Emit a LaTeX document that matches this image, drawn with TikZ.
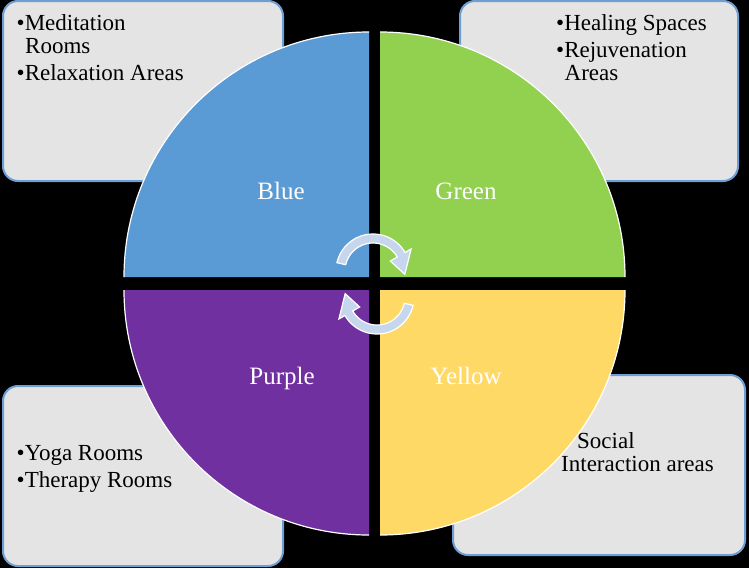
\documentclass[tikz,border=0pt]{standalone}
\usepackage{fontspec}
\setmainfont{Liberation Serif}
\definecolor{boxfill}{HTML}{E4E4E4}
\definecolor{boxborder}{HTML}{6F9ED3}
\definecolor{bluec}{HTML}{5B9BD5}
\definecolor{greenc}{HTML}{92D050}
\definecolor{purplec}{HTML}{7030A0}
\definecolor{yellowc}{HTML}{FFD966}
\definecolor{arrowfill}{HTML}{C6D6EC}
\begin{document}
\begin{tikzpicture}[x=1pt,y=-1pt,
  box/.style={draw=boxborder, line width=2pt, fill=boxfill, rounded corners=15pt},
  arcline/.style={draw=white, line width=1.2pt},
  itemtxt/.style={anchor=base west, inner sep=0pt, font=\fontsize{23}{27}\selectfont, text=black},
  lbl/.style={anchor=base, inner sep=0pt, font=\fontsize{25}{29}\selectfont, text=white},
  cyc/.style={fill=arrowfill, draw=white, line width=1.2pt, line join=miter}]
\fill[black] (0,0) rectangle (749,568);
\useasboundingbox (0,0) rectangle (749,568);
% corner boxes
\draw[box] (3,1) rectangle (283,181);
\draw[box] (460,1) rectangle (738,181);
\draw[box] (3,386) rectangle (283,566);
\draw[box] (453,375) rectangle (745,555);
% box texts
\node[itemtxt] (m1) at (16.5,30.5) {\textbullet Meditation};
\node[itemtxt] (m2) at (25,53) {Rooms};
\node[itemtxt] (m3) at (16.5,80) {\textbullet Relaxation Areas};
\node[itemtxt] (h1) at (556,30) {\textbullet Healing Spaces};
\node[itemtxt] (h2) at (556,57) {\textbullet Rejuvenation};
\node[itemtxt] (h3) at (564.5,80) {Areas};
\node[itemtxt] (y1) at (16.5,460) {\textbullet Yoga Rooms};
\node[itemtxt] (y2) at (16.5,487) {\textbullet Therapy Rooms};
\node[itemtxt] (s1) at (577,448) {Social};
\node[itemtxt] (s2) at (561,471) {Interaction areas};
% quarters
\fill[bluec] (369,277) -- (124,277) arc[start angle=180, end angle=270, radius=245] -- cycle;
\draw[arcline] (124,277) arc[start angle=180, end angle=270, radius=245];
\fill[greenc] (380,277) -- (380,32) arc[start angle=270, end angle=360, radius=245] -- cycle;
\draw[arcline] (380,32) arc[start angle=270, end angle=360, radius=245];
\fill[yellowc] (380,290) -- (625,290) arc[start angle=0, end angle=90, radius=245] -- cycle;
\draw[arcline] (625,290) arc[start angle=0, end angle=90, radius=245];
\fill[purplec] (369,290) -- (369,535) arc[start angle=90, end angle=180, radius=245] -- cycle;
\draw[arcline] (369,535) arc[start angle=90, end angle=180, radius=245];
% labels
\node[lbl] (lb) at (281,199) {Blue};
\node[lbl] (lg) at (466,199) {Green};
\node[lbl] (lp) at (282,384) {Purple};
\node[lbl] (ly) at (466,384) {Yellow};
% cycle arrows
\begin{scope}[shift={(373,271)}]
\draw[cyc] plot[domain=193:330,samples=40] ({37*cos(\x)},{37*sin(\x)}) -- (330:44) -- (6:32) -- (330:20) -- plot[domain=330:193,samples=40] ({28*cos(\x)},{28*sin(\x)}) -- cycle;
\end{scope}
\begin{scope}[shift={(377,297)},rotate=180]
\draw[cyc] plot[domain=193:330,samples=40] ({37*cos(\x)},{37*sin(\x)}) -- (330:44) -- (6:32) -- (330:20) -- plot[domain=330:193,samples=40] ({28*cos(\x)},{28*sin(\x)}) -- cycle;
\end{scope}
\end{tikzpicture}
\end{document}
